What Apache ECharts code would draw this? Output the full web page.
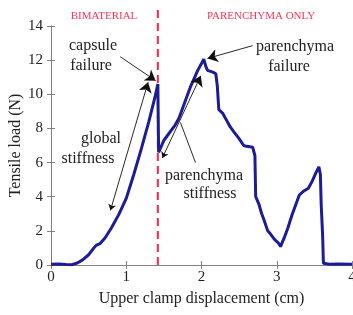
<!DOCTYPE html>
<html><head><meta charset="utf-8">
<script src="https://cdn.jsdelivr.net/npm/echarts@6/dist/echarts.min.js"></script>
<style>html,body{margin:0;padding:0;background:#fff}#c{width:353px;height:315px}</style>
</head><body><div id="c"></div>
<script>
// displacement (cm)
var disp = [0,0.1,0.2,0.28,0.35,0.42,0.5,0.56,0.6,0.65,0.72,0.8,0.9,1.0,1.05,1.1,1.2,1.3,1.38,1.42,
  1.43,1.45,1.5,1.55,1.6,1.65,1.7,1.75,1.8,1.85,1.9,1.95,2.0,2.03,2.06,2.08,2.15,2.19,2.21,2.23,
  2.28,2.33,2.38,2.43,2.5,2.56,2.6,2.68,2.71,2.72,2.76,2.8,2.83,2.88,2.92,2.97,3.02,3.05,3.1,3.15,
  3.2,3.25,3.3,3.35,3.42,3.47,3.52,3.56,3.58,3.59,3.61,3.62,3.7,3.8,4.0];
// tensile load (N)
var load = [0.05,0.06,0.03,0.02,0.12,0.3,0.6,0.95,1.15,1.25,1.6,2.15,2.95,3.9,4.6,5.3,6.8,8.4,9.8,10.6,
  6.6,6.6,7.3,7.6,7.9,8.2,8.6,9.2,9.8,10.4,10.9,11.4,11.8,12.05,11.6,11.4,11.3,11.2,10.5,9.1,
  8.9,8.5,8.1,7.8,7.4,7.0,6.95,6.9,6.4,4.0,3.6,3.0,2.65,2.0,1.8,1.5,1.3,1.08,1.6,2.2,
  2.9,3.5,4.1,4.3,4.5,4.9,5.4,5.75,5.3,3.6,1.7,0.1,0.05,0.06,0.05];
var xTicks = [0,1,2,3,4];
var yTicks = [0,2,4,6,8,10,12,14];
var boundaryX = 1.42;
var regionLabels = ['BIMATERIAL','PARENCHYMA ONLY'];
// annotation arrows [from, to] in data units
var arrowsOneHead = [
  [[0.92,12.2],[1.39,10.8]],   // capsule failure
  [[2.68,12.85],[2.08,12.1]]   // parenchyma failure
];
var arrowsTwoHead = [
  [[0.79,3.2],[1.29,10.7]],    // global stiffness
  [[1.48,6.27],[1.99,11.08]]   // parenchyma stiffness
];
var connectors = [[[1.92,6.0],[1.72,8.35]]];

var pts = disp.map(function(d,i){return [d, load[i]];});
var serif = '"Liberation Serif", "DejaVu Serif", serif';
var axisCol = '#808080';
var chart = echarts.init(document.getElementById('c'));
function lineData(arr){return arr.map(function(a){return {coords:a};});}
chart.setOption({
  animation:false,
  grid:{left:51,right:1,top:26,bottom:50,containLabel:false,outerBoundsMode:'none'},
  xAxis:[{type:'value',min:xTicks[0],max:xTicks[xTicks.length-1],interval:1,
    axisLine:{lineStyle:{color:axisCol}},
    axisTick:{inside:true,length:4,lineStyle:{color:axisCol}},
    axisLabel:{fontFamily:serif,fontSize:15,color:'#222',margin:5},
    splitLine:{show:false},
    name:'Upper clamp displacement (cm)',nameLocation:'middle',nameGap:26,nameMoveOverlap:false,
    nameTextStyle:{fontFamily:serif,fontSize:16,color:'#222'}},
   {type:'value',position:'top',min:0,max:4,interval:1,
    axisLine:{lineStyle:{color:axisCol}},
    axisTick:{inside:true,length:4,lineStyle:{color:axisCol}},
    axisLabel:{show:false},splitLine:{show:false}}],
  yAxis:[{type:'value',min:yTicks[0],max:yTicks[yTicks.length-1],interval:2,
    axisLine:{show:true,lineStyle:{color:axisCol}},
    axisTick:{show:true,inside:true,length:4,lineStyle:{color:axisCol}},
    axisLabel:{fontFamily:serif,fontSize:15,color:'#222',margin:8},
    splitLine:{show:false},
    name:'Tensile load (N)',nameLocation:'middle',nameGap:27,nameRotate:90,nameMoveOverlap:false,
    nameTextStyle:{fontFamily:serif,fontSize:16,color:'#222'}},
   {type:'value',position:'right',min:0,max:14,interval:2,
    axisLine:{show:true,lineStyle:{color:axisCol}},
    axisTick:{show:true,inside:true,length:4,lineStyle:{color:axisCol}},
    axisLabel:{show:false},splitLine:{show:false}}],
  series:[
    {type:'line',data:[[boundaryX,0],[boundaryX,15.2]],clip:false,symbol:'none',
     lineStyle:{color:'#ff2450',width:2,type:[8,5]},z:1},
    {type:'line',data:pts,symbol:'none',lineStyle:{color:'#1c1c96',width:3},z:2},
    {type:'lines',coordinateSystem:'cartesian2d',data:lineData(arrowsOneHead),
     symbol:['none','arrow'],symbolSize:[6,10],
     lineStyle:{color:'#111',width:0.9,opacity:1},z:3},
    {type:'lines',coordinateSystem:'cartesian2d',data:lineData(arrowsTwoHead),
     symbol:['arrow','arrow'],symbolSize:[6,10],
     lineStyle:{color:'#111',width:0.9,opacity:1},z:3},
    {type:'lines',coordinateSystem:'cartesian2d',data:lineData(connectors),
     symbol:['none','none'],
     lineStyle:{color:'#111',width:0.9,opacity:1},z:3}
  ],
  graphic:[
    {type:'text',x:104,y:16,style:{text:regionLabels[0],fill:'#ff3355',font:'11px '+serif,align:'center',verticalAlign:'middle'}},
    {type:'text',x:261,y:16,style:{text:regionLabels[1],fill:'#ff3355',font:'11px '+serif,align:'center',verticalAlign:'middle'}},
    {type:'text',x:93,y:46,style:{text:'capsule',fill:'#222',font:'16px '+serif,align:'center',verticalAlign:'middle'}},
    {type:'text',x:91,y:66,style:{text:'failure',fill:'#222',font:'16px '+serif,align:'center',verticalAlign:'middle'}},
    {type:'text',x:101,y:139,style:{text:'global',fill:'#222',font:'16px '+serif,align:'center',verticalAlign:'middle'}},
    {type:'text',x:88,y:159,style:{text:'stiffness',fill:'#222',font:'16px '+serif,align:'center',verticalAlign:'middle'}},
    {type:'text',x:295,y:47,style:{text:'parenchyma',fill:'#222',font:'16px '+serif,align:'center',verticalAlign:'middle'}},
    {type:'text',x:289,y:67,style:{text:'failure',fill:'#222',font:'16px '+serif,align:'center',verticalAlign:'middle'}},
    {type:'text',x:204,y:176,style:{text:'parenchyma',fill:'#222',font:'16px '+serif,align:'center',verticalAlign:'middle'}},
    {type:'text',x:210,y:194,style:{text:'stiffness',fill:'#222',font:'16px '+serif,align:'center',verticalAlign:'middle'}}
  ]
});
</script></body></html>
